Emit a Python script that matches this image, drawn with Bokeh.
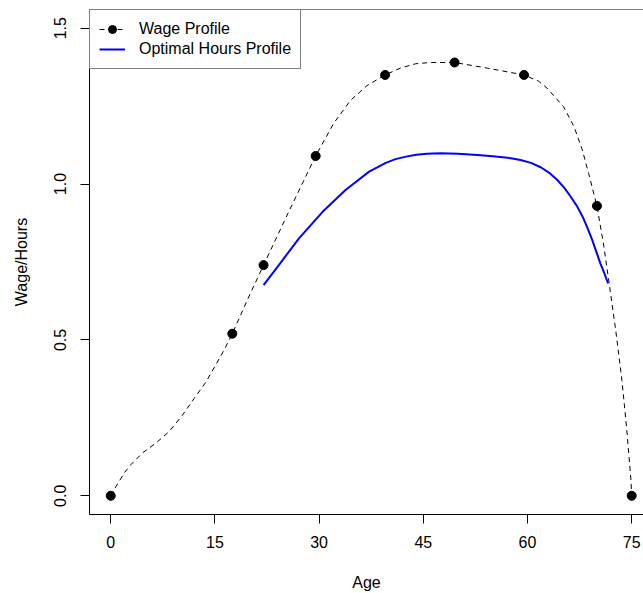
import math
from bokeh.plotting import figure
from bokeh.models import Range1d, FixedTicker, Legend, LegendItem, Span
from bokeh.embed import file_html
from bokeh.resources import INLINE

# Wage profile: observed points
wage_age = [0, 17.5, 22, 29.5, 39.5, 49.5, 59.5, 70, 75]
wage_val = [0.0, 0.52, 0.74, 1.09, 1.35, 1.39, 1.35, 0.93, 0.0]

# Smooth wage curve
wage_curve_age = [0, 0.6, 1.2, 2.0, 2.9, 4.6, 6.5, 8.4, 10.3, 12.0, 13.7, 15.1, 16.3, 17.5,
                  19.7, 22, 25.7, 29.5, 32.1, 34.5, 36.9, 39.5, 41.7, 43.9, 46.0,
                  49.5, 54.2, 59.5, 61.6, 62.8, 65.2, 66.7, 67.9, 68.8, 70,
                  71.0, 71.9, 72.7, 73.6, 74.3, 74.9, 75]
wage_curve_val = [0.0, 0.024, 0.046, 0.075, 0.100, 0.138, 0.169, 0.206, 0.258, 0.312, 0.365, 0.419,
                  0.467, 0.52, 0.63, 0.74, 0.915, 1.09, 1.195, 1.268, 1.316, 1.35,
                  1.372, 1.386, 1.390, 1.39, 1.372, 1.35, 1.330, 1.308, 1.248, 1.184,
                  1.109, 1.034, 0.93, 0.799, 0.659, 0.531, 0.370, 0.210, 0.049, 0.0]

# Optimal hours profile
hours_age = [22, 24.2, 27.1, 30.5, 33.8, 37.2, 39.6, 41.0, 42.5, 44.0, 45.5, 47.5,
             50.0, 52.8, 55.0, 57.6, 59.0, 60.5, 61.9, 63.2, 64.3, 65.3, 66.2,
             67.1, 67.9, 68.6, 69.3, 70.0, 70.5, 71.1, 71.6]
hours_val = [0.676, 0.740, 0.826, 0.911, 0.981, 1.040, 1.068, 1.080, 1.088, 1.094, 1.097, 1.099,
             1.097, 1.093, 1.089, 1.083, 1.077, 1.068, 1.054, 1.035, 1.013, 0.988, 0.960,
             0.930, 0.897, 0.861, 0.822, 0.777, 0.745, 0.712, 0.681]

x_ticks = [0, 15, 30, 45, 60, 75]
y_ticks = [0.0, 0.5, 1.0, 1.5]
y_tick_labels = {0.0: "0.0", 0.5: "0.5", 1.0: "1.0", 1.5: "1.5"}

FONT = "Liberation Sans"

p = figure(width=643, height=593, output_backend="svg", toolbar_location=None,
           x_range=Range1d(-3.06, 76.7), y_range=Range1d(-0.06, 1.56),
           min_border_left=89, min_border_right=0, min_border_top=9, min_border_bottom=79)
p.background_fill_color = "white"
p.border_fill_color = "white"
p.outline_line_color = None
p.grid.visible = False

curve = p.line(wage_curve_age, wage_curve_val, line_color="black", line_width=1, line_dash="5 4")
pts = p.scatter(wage_age, wage_val, size=9, color="black")
hours = p.line(hours_age, hours_val, line_color="#0000FF", line_width=2)

top = Span(location=1.56, dimension="width", line_color="black", line_width=1)
p.add_layout(top)

for ax in (p.xaxis[0], p.yaxis[0]):
    ax.axis_line_color = "black"
    ax.major_tick_line_color = "black"
    ax.major_tick_out = 9
    ax.major_tick_in = 0
    ax.minor_tick_line_color = None
    ax.major_label_text_font = FONT
    ax.major_label_text_font_size = "16px"
    ax.major_label_text_color = "black"
    ax.axis_label_text_font = FONT
    ax.axis_label_text_font_size = "16px"
    ax.axis_label_text_font_style = "normal"
    ax.axis_label_text_color = "black"

p.xaxis.ticker = FixedTicker(ticks=x_ticks)
p.yaxis.ticker = FixedTicker(ticks=y_ticks)
p.yaxis.major_label_overrides = y_tick_labels
p.yaxis.major_label_orientation = "parallel"
p.xaxis.axis_label = "Age"
p.yaxis.axis_label = "Wage/Hours"
p.xaxis.major_label_standoff = 12
p.yaxis.major_label_standoff = 14
p.xaxis.axis_label_standoff = 23
p.yaxis.axis_label_standoff = 22

legend = Legend(items=[LegendItem(label="Wage Profile", renderers=[curve, pts]),
                       LegendItem(label="Optimal Hours Profile", renderers=[hours])],
                location="top_left")
legend.margin = 0
legend.padding = 9
legend.spacing = 0
legend.glyph_width = 26
legend.glyph_height = 20
legend.label_height = 20
legend.label_standoff = 14
legend.label_text_font = FONT
legend.label_text_font_size = "16px"
legend.label_text_color = "black"
legend.border_line_color = "black"
legend.border_line_width = 1
legend.background_fill_color = "white"
legend.background_fill_alpha = 1
p.add_layout(legend)

open("out.html", "w").write(file_html(p, INLINE))
